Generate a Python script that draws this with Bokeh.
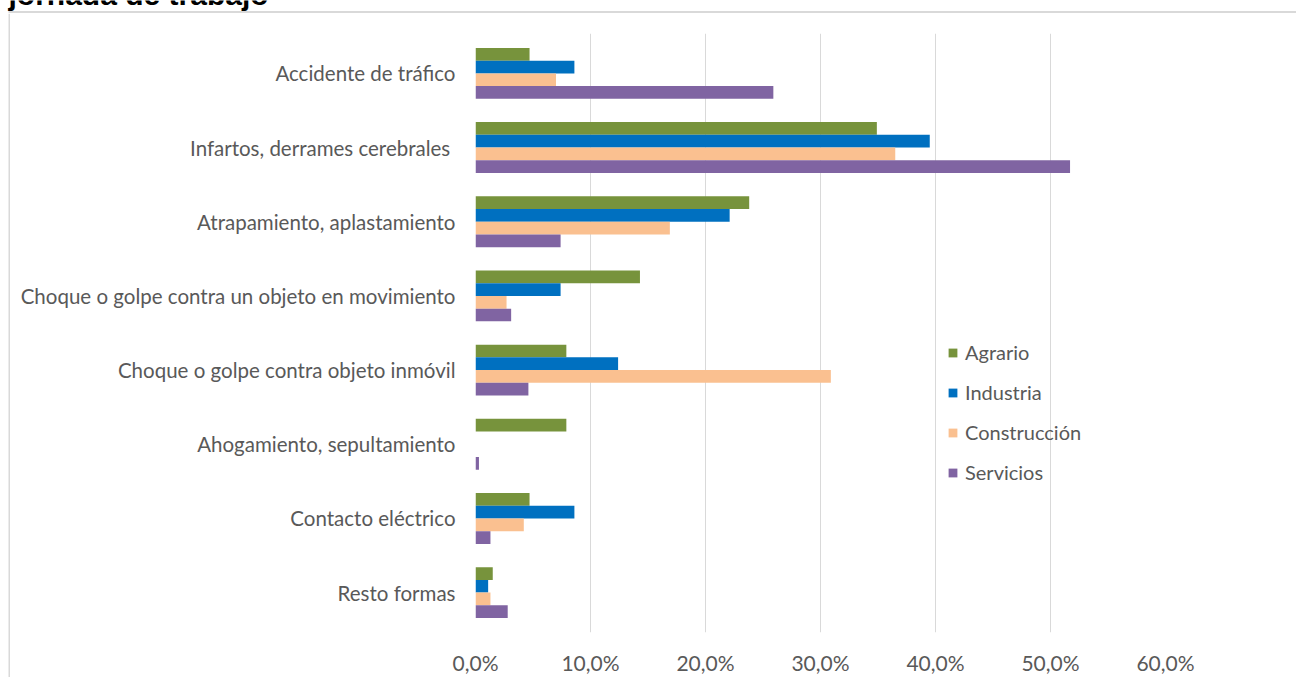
from bokeh.plotting import figure
from bokeh.layouts import column, row
from bokeh.models import FactorRange, Range1d, FixedTicker, Legend, LegendItem, ColumnDataSource
from bokeh.core.properties import value
from bokeh.transform import dodge
from bokeh.embed import file_html
from bokeh.resources import INLINE

# ---------------- data ----------------
categories = [
    "Accidente de tráfico",
    "Infartos, derrames cerebrales ",
    "Atrapamiento, aplastamiento",
    "Choque o golpe contra un objeto en movimiento",
    "Choque o golpe contra objeto inmóvil",
    "Ahogamiento, sepultamiento",
    "Contacto eléctrico",
    "Resto formas",
]
series_names = ["Agrario", "Industria", "Construcción", "Servicios"]
agrario = [4.7, 34.9, 23.8, 14.3, 7.9, 7.9, 4.7, 1.5]
industria = [8.6, 39.5, 22.1, 7.4, 12.4, 0.0, 8.6, 1.1]
construccion = [7.0, 36.5, 16.9, 2.7, 30.9, 0.0, 4.2, 1.3]
servicios = [25.9, 51.7, 7.4, 3.1, 4.6, 0.3, 1.3, 2.8]
tick_values = [0, 10, 20, 30, 40, 50, 60]
tick_labels = ["0,0%", "10,0%", "20,0%", "30,0%", "40,0%", "50,0%", "60,0%"]
title_text = "jornada de trabajo"

# ---------------- style ----------------
colors = ["#77933C", "#0070C0", "#FAC090", "#8064A2"]
GRID = "#D9D9D9"
TXT = "#595959"
FONT = "Lato"
PAGE_W, PAGE_H = 1296, 677
TOP_H = 13      # strip holding the (cropped) title and the top border line
LEFT_W = 10     # strip holding the left border line


def blank(width, height):
    f = figure(width=width, height=height, output_backend="svg", toolbar_location=None,
               x_axis_location=None, y_axis_location=None,
               x_range=Range1d(0, width), y_range=Range1d(height, 0),
               min_border=0, min_border_left=0, min_border_right=0,
               min_border_top=0, min_border_bottom=0)
    f.grid.visible = False
    f.outline_line_color = None
    f.background_fill_color = "white"
    f.border_fill_color = "white"
    f.frame_align = False
    return f


# --- top strip: cropped title + top border line
top = blank(PAGE_W, TOP_H)
top.quad(left=[8], right=[PAGE_W], top=[10.5], bottom=[12.5], fill_color=GRID, line_color=None)
top.text(x=[8], y=[-6], text=[title_text], text_font=value("Liberation Sans"),
         text_font_style="bold", text_font_size="30px", text_color="black",
         text_baseline="alphabetic", text_align="left")

# --- left strip: left border line
left = blank(LEFT_W, PAGE_H - TOP_H)
left.quad(left=[8], right=[10], top=[0], bottom=[PAGE_H - TOP_H], fill_color=GRID, line_color=None)

# --- main chart
W, H = PAGE_W - LEFT_W, PAGE_H - TOP_H
FL, FR, FT, FB = 475 - LEFT_W, 1165 - LEFT_W, 33 - TOP_H, 633 - TOP_H

src = ColumnDataSource(dict(cat=categories, Agrario=agrario, Industria=industria,
                            Construccion=construccion, Servicios=servicios))
fields = ["Agrario", "Industria", "Construccion", "Servicios"]

p = figure(width=W, height=H, output_backend="svg", toolbar_location=None,
           y_range=FactorRange(factors=categories[::-1], range_padding=0.0094),
           x_range=Range1d(0, 60),
           min_border_left=FL, min_border_right=W - FR,
           min_border_top=FT, min_border_bottom=H - FB)
p.frame_align = False
p.background_fill_color = "white"
p.border_fill_color = "white"
p.outline_line_color = None

bar_h = 0.1716
offsets = [1.5 * bar_h, 0.5 * bar_h, -0.5 * bar_h, -1.5 * bar_h]
items = []
for f, name, c, off in zip(fields, series_names, colors, offsets):
    r = p.hbar(y=dodge("cat", off, range=p.y_range), left=0, right=f, height=bar_h,
               source=src, fill_color=c, line_color=None)
    items.append(LegendItem(label=name, renderers=[r]))

legend = Legend(items=items, location=(472, 148), orientation="vertical",
                glyph_width=11, glyph_height=11, label_height=24, spacing=16,
                label_standoff=7, padding=0, margin=0,
                label_text_font=FONT, label_text_font_size="20px", label_text_color=TXT,
                background_fill_alpha=0, border_line_color=None)
p.add_layout(legend, "center")

p.xaxis.ticker = FixedTicker(ticks=tick_values)
p.xaxis.major_label_overrides = {v: s for v, s in zip(tick_values, tick_labels)}
for ax in (p.xaxis, p.yaxis):
    ax.axis_line_color = None
    ax.major_tick_line_color = None
    ax.minor_tick_line_color = None
    ax.major_label_text_font = FONT
    ax.major_label_text_color = TXT
p.xaxis.major_label_text_font_size = "21px"
p.yaxis.major_label_text_font_size = "20.5px"
p.xaxis.major_label_standoff = 11
p.yaxis.major_label_standoff = 14
p.xgrid.grid_line_color = GRID
p.xgrid.grid_line_width = 1
p.ygrid.grid_line_color = None

layout = column(top, row(left, p, spacing=0), spacing=0)

open("out.html", "w").write(file_html(layout, INLINE))
